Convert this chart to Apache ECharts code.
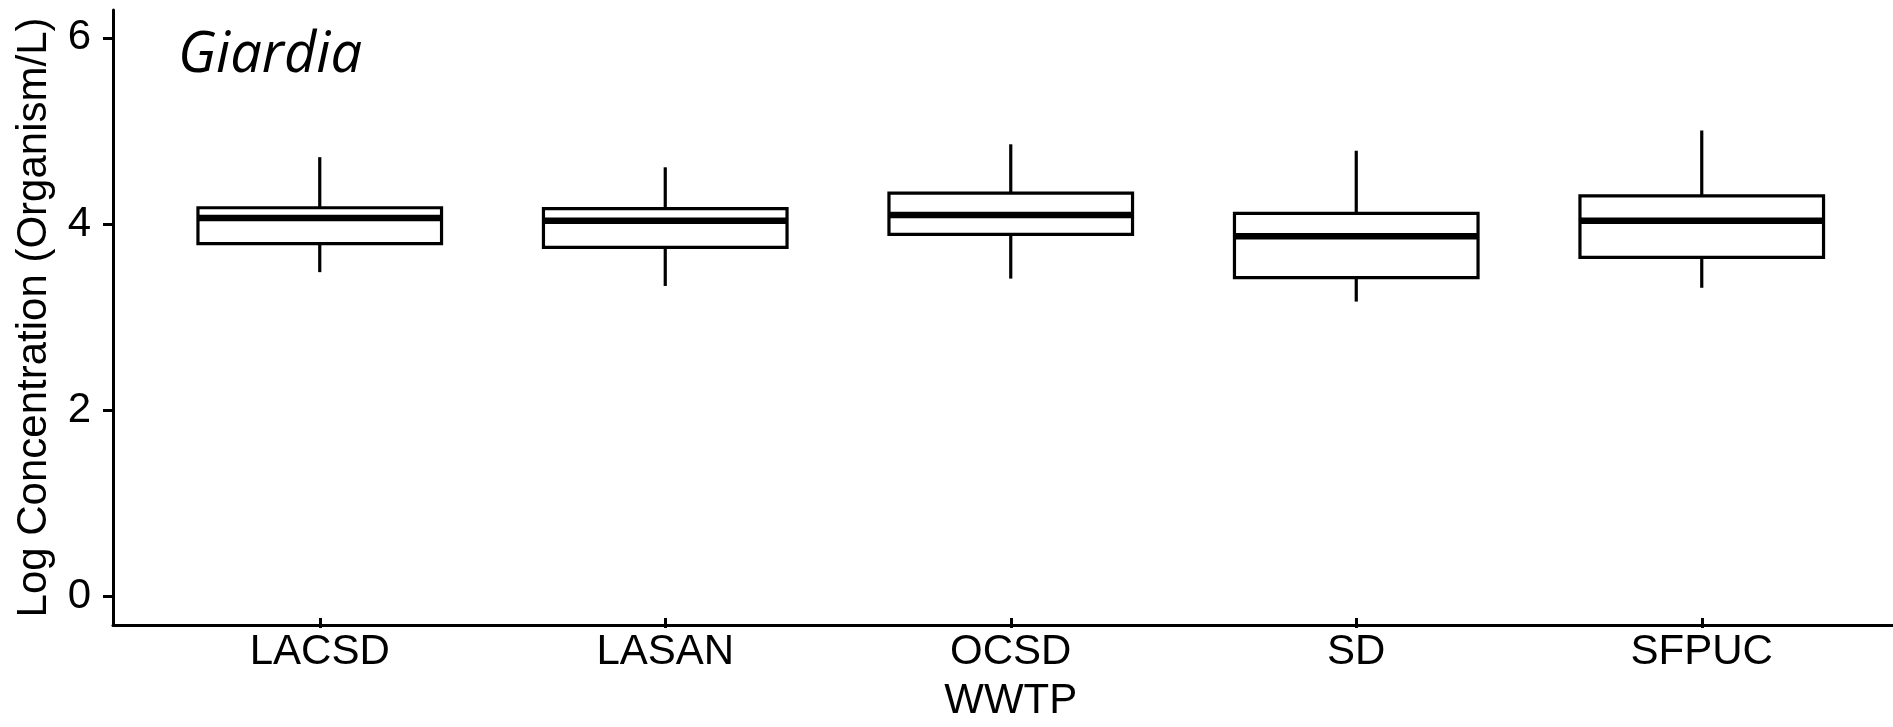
<!DOCTYPE html>
<html>
<head>
<meta charset="utf-8">
<title>Giardia</title>
<script src="https://cdn.jsdelivr.net/npm/echarts@6/dist/echarts.min.js"></script>
<style>
  html, body { margin: 0; padding: 0; background: #fff; }
  #chart { width: 1893px; height: 727px; }
</style>
</head>
<body>
<div id="chart"></div>
<script>
// 数据：每个污水厂的箱线图五数
const plants = ['LACSD', 'LASAN', 'OCSD', 'SD', 'SFPUC'];
const lowWhisker = [3.45, 3.30, 3.38, 3.13, 3.28];
const q1 = [3.76, 3.72, 3.86, 3.39, 3.61];
const median = [4.04, 4.01, 4.07, 3.84, 4.01];
const q3 = [4.15, 4.14, 4.31, 4.09, 4.28];
const highWhisker = [4.70, 4.59, 4.84, 4.77, 4.99];
const yTicks = [0, 2, 4, 6];

const font = 'Liberation Sans, Arial, sans-serif';
const yMin = -0.31;
const yMax = 6.3;

// 组装 custom series 数据 [idx, low, q1, median, q3, high]
const boxData = plants.map((p, i) => [i, lowWhisker[i], q1[i], median[i], q3[i], highWhisker[i]]);

function renderBox(params, api) {
    const idx = api.value(0);
    const pLo = api.coord([idx, api.value(1)]);
    const pQ1 = api.coord([idx, api.value(2)]);
    const pMed = api.coord([idx, api.value(3)]);
    const pQ3 = api.coord([idx, api.value(4)]);
    const pHi = api.coord([idx, api.value(5)]);
    const cx = pMed[0];
    const boxW = api.size([1, 0])[0] * 0.705;
    const lineStyle = { stroke: '#000', lineWidth: 3.2, fill: null };
    return {
        type: 'group',
        children: [
            { type: 'line', shape: { x1: cx, y1: pQ3[1], x2: cx, y2: pHi[1] }, style: lineStyle },
            { type: 'line', shape: { x1: cx, y1: pQ1[1], x2: cx, y2: pLo[1] }, style: lineStyle },
            {
                type: 'rect',
                shape: { x: cx - boxW / 2, y: pQ3[1], width: boxW, height: pQ1[1] - pQ3[1] },
                style: { fill: '#fff', stroke: '#000', lineWidth: 3.2 }
            },
            {
                type: 'line',
                shape: { x1: cx - boxW / 2, y1: pMed[1], x2: cx + boxW / 2, y2: pMed[1] },
                style: { stroke: '#000', lineWidth: 6.5 }
            }
        ]
    };
}

const chart = echarts.init(document.getElementById('chart'));
const option = {
    animation: false,
    backgroundColor: '#fff',
    title: {
        text: 'Giardia',
        left: 178,
        top: 28,
        padding: 0,
        textStyle: { fontFamily: 'Open Sans, sans-serif', fontStyle: 'italic', fontWeight: 'normal', fontSize: 56, color: '#000' }
    },
    grid: [
        // 轴线用的网格
        { left: 113, right: 0, top: 10, bottom: 102 },
        // 箱线图用的网格
        { left: 147, width: 1727.5, top: 10, bottom: 102 }
    ],
    xAxis: [
        {
            gridIndex: 0,
            type: 'value',
            min: 0,
            max: 1,
            axisLine: { show: true, onZero: false, lineStyle: { color: '#000', width: 3 } },
            axisTick: { show: false },
            axisLabel: { show: false },
            splitLine: { show: false }
        },
        {
            gridIndex: 1,
            type: 'category',
            data: plants,
            name: 'WWTP',
            nameLocation: 'middle',
            nameGap: 62,
            nameTextStyle: { fontFamily: font, fontSize: 42, color: '#000' },
            axisLine: { show: false, onZero: false },
            axisTick: { show: true, alignWithLabel: true, length: 10, lineStyle: { color: '#000', width: 3 } },
            axisLabel: { fontFamily: font, fontSize: 42, color: '#000', margin: 13 },
            splitLine: { show: false }
        }
    ],
    yAxis: [
        {
            gridIndex: 0,
            type: 'value',
            min: yMin,
            max: yMax,
            name: 'Log Concentration (Organism/L)',
            nameLocation: 'middle',
            nameGap: 58,
            nameTextStyle: { fontFamily: font, fontSize: 42, color: '#000' },
            axisLine: { show: true, onZero: false, lineStyle: { color: '#000', width: 3 } },
            axisTick: { show: true, length: 10, customValues: yTicks, lineStyle: { color: '#000', width: 3 } },
            axisLabel: { fontFamily: font, fontSize: 42, color: '#000', margin: 22, customValues: yTicks },
            splitLine: { show: false }
        },
        {
            gridIndex: 1,
            type: 'value',
            min: yMin,
            max: yMax,
            show: false,
            splitLine: { show: false }
        }
    ],
    series: [
        {
            type: 'custom',
            xAxisIndex: 1,
            yAxisIndex: 1,
            renderItem: renderBox,
            data: boxData,
            encode: { x: 0, y: [1, 2, 3, 4, 5] }
        }
    ]
};
chart.setOption(option);
</script>
</body>
</html>
